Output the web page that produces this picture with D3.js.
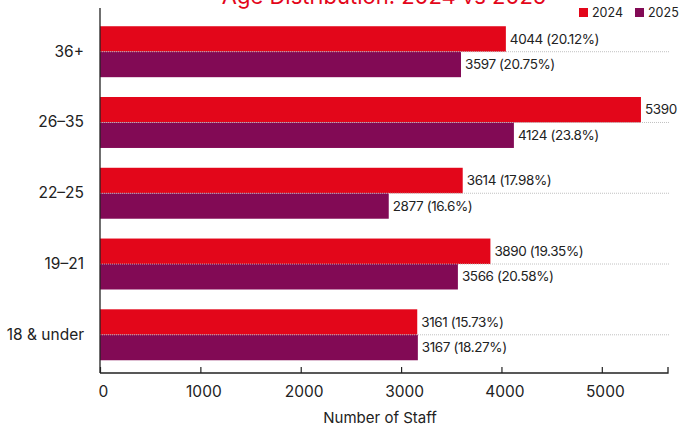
<!DOCTYPE html>
<html>
<head>
<meta charset="utf-8">
<script src="https://cdn.jsdelivr.net/npm/d3@7"></script>
<style>
  body { margin: 0; background: #fff; }
  svg { display: block; font-family: Inter, "Noto Sans", sans-serif; }
</style>
</head>
<body>
<div class="vis"></div>
<script>
(function() {
  'use strict';

  var ages = ["36+", "26–35", "22–25", "19–21", "18 & under"];
  var staff2024 = [4044, 5390, 3614, 3890, 3161];
  var staff2025 = [3597, 4124, 2877, 3566, 3167];
  var years = ["2024", "2025"];
  var xTicks = [0, 1000, 2000, 3000, 4000, 5000];
  var colors = ["#e3061a", "#820a55"];

  var width = 679, height = 433,
    left = 100, right = 668, top = 13.5, bottom = 373;

  var svg = d3.select('.vis').append('svg')
    .attr('width', width)
    .attr('height', height);

  var x = d3.scaleLinear()
    .domain([0, d3.max(staff2024.concat(staff2025)) * 1.05])
    .range([left, right]);

  var y = d3.scaleBand()
    .domain(ages)
    .range([top, bottom])
    .paddingInner(0.28)
    .paddingOuter(0.18);

  var sub = d3.scaleBand()
    .domain(years)
    .range([0, y.bandwidth()]);

  var series = [staff2024, staff2025];
  var totals = series.map(function(s) { return d3.sum(s); });

  function pct(v, t) {
    return (+(v / t * 100).toFixed(2)) + '%';
  }

  // bars
  series.forEach(function(vals, si) {
    var rows = ages.map(function(a, i) { return {age: a, value: vals[i]}; });
    var g = svg.append('g');
    g.selectAll('rect')
      .data(rows)
      .enter()
      .append('rect')
        .attr('x', x(0))
        .attr('y', function(d) { return y(d.age) + sub(years[si]); })
        .attr('width', function(d) { return x(d.value) - x(0); })
        .attr('height', sub.bandwidth())
        .attr('fill', colors[si]);
    g.selectAll('text')
      .data(rows)
      .enter()
      .append('text')
        .attr('x', function(d) { return x(d.value) + 4; })
        .attr('y', function(d) { return y(d.age) + sub(years[si]) + sub.bandwidth() / 2; })
        .attr('dy', '0.35em')
        .attr('font-size', 13.5)
        .attr('fill', '#222')
        .style('letter-spacing', '-0.4px')
        .text(function(d) { return d.value + ' (' + pct(d.value, totals[si]) + ')'; });
  });

  // dotted guide lines through category centres
  svg.append('g').selectAll('line')
    .data(ages)
    .enter()
    .append('line')
      .attr('x1', x(0))
      .attr('x2', 669)
      .attr('y1', function(d) { return y(d) + y.bandwidth() / 2; })
      .attr('y2', function(d) { return y(d) + y.bandwidth() / 2; })
      .attr('stroke', '#bbb')
      .attr('stroke-width', 1)
      .attr('stroke-dasharray', '1,1')
      .attr('opacity', 0.9);

  // x axis
  var xAxis = svg.append('g')
    .attr('transform', 'translate(0,' + bottom + ')')
    .call(d3.axisBottom(x).tickValues(xTicks).tickFormat(d3.format('d')).tickSize(-6));
  xAxis.select('.domain').attr('stroke', '#222').attr('stroke-width', 1.3)
    .attr('d', 'M' + x(0) + ',0H' + right + 'V-6');
  xAxis.selectAll('.tick line').attr('stroke', '#222').attr('stroke-width', 1.2);
  xAxis.selectAll('.tick text')
    .attr('y', 13)
    .attr('dx', 3)
    .attr('font-size', 15.5)
    .attr('font-family', 'Inter, sans-serif')
    .attr('fill', '#222');

  // y axis
  var yAxis = svg.append('g')
    .attr('transform', 'translate(' + left + ',0)')
    .call(d3.axisLeft(y).tickSize(0).tickPadding(16));
  yAxis.select('.domain').remove();
  yAxis.selectAll('.tick text')
    .attr('font-size', 15.5)
    .attr('font-family', 'Inter, sans-serif')
    .attr('fill', '#222');
  svg.append('line')
    .attr('x1', left).attr('x2', left)
    .attr('y1', 8).attr('y2', bottom)
    .attr('stroke', '#222').attr('stroke-width', 1.3);

  // axis title
  svg.append('text')
    .attr('x', 380)
    .attr('y', 423)
    .attr('text-anchor', 'middle')
    .attr('font-size', 15)
    .attr('fill', '#222')
    .text('Number of Staff');

  // title (partly above the top edge, as in the source)
  svg.append('text')
    .attr('x', (left + right) / 2)
    .attr('y', 4)
    .attr('text-anchor', 'middle')
    .attr('font-size', 22)
    .attr('fill', colors[0])
    .text('Age Distribution: 2024 vs 2025');

  // legend
  var legend = svg.append('g').selectAll('g')
    .data(years)
    .enter()
    .append('g')
      .attr('transform', function(d, i) { return 'translate(' + (579 + i * 56) + ',8)'; });
  legend.append('rect')
    .attr('width', 9)
    .attr('height', 9)
    .attr('fill', function(d, i) { return colors[i]; });
  legend.append('text')
    .attr('x', 13)
    .attr('y', 4.5)
    .attr('dy', '0.35em')
    .attr('font-size', 12.5)
    .attr('fill', '#222')
    .text(function(d) { return d; });
}());
</script>
</body>
</html>
